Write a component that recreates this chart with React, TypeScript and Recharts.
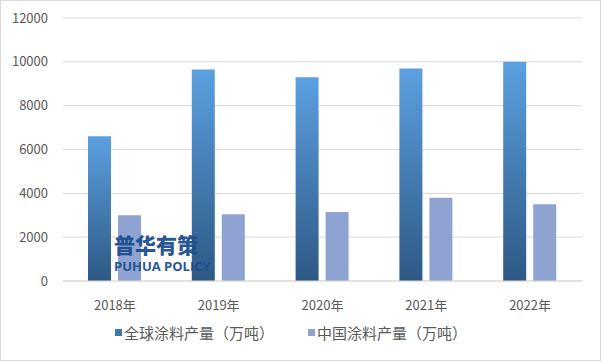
import { BarChart, Bar, XAxis, YAxis, CartesianGrid, Legend } from "recharts";

const years = ["2018年", "2019年", "2020年", "2021年", "2022年"];
const globalOutput = [6600, 9650, 9300, 9700, 10000];
const chinaOutput = [3000, 3050, 3150, 3800, 3500];
const yTicks = [0, 2000, 4000, 6000, 8000, 10000, 12000];

const GLOBAL_NAME = "全球涂料产量（万吨）";
const CHINA_NAME = "中国涂料产量（万吨）";

const data = years.map((y, i) => ({
  year: y,
  global: globalOutput[i],
  china: chinaOutput[i],
}));

const FONT = '"Noto Sans CJK SC", "Noto Sans", sans-serif';

function LegendContent() {
  const items = [
    { name: GLOBAL_NAME, color: "#3f76ad" },
    { name: CHINA_NAME, color: "#8fa3d2" },
  ];
  return (
    <div
      style={{
        height: 30,
        display: "flex",
        justifyContent: "center",
        alignItems: "center",
        gap: 34,
        fontFamily: FONT,
        fontSize: 15,
        color: "#595959",
      }}
    >
      {items.map((it) => (
        <div key={it.name} style={{ display: "flex", alignItems: "center" }}>
          <span
            style={{
              width: 7,
              height: 7,
              background: it.color,
              display: "inline-block",
              marginRight: 2,
            }}
          />
          <span>{it.name}</span>
        </div>
      ))}
    </div>
  );
}

export default function App() {
  return (
    <div
      style={{
        position: "absolute",
        left: 0,
        top: 0,
        width: 601,
        height: 361,
        background: "#fff",
      }}
    >
      <BarChart
        width={601}
        height={361}
        data={data}
        margin={{ top: 18, right: 19, left: 0, bottom: 14 }}
        barSize={23}
        barGap={7}
      >
        <defs>
          <linearGradient id="blueGrad" x1="0" y1="0" x2="0" y2="1">
            <stop offset="0%" stopColor="#5ba0e0" />
            <stop offset="100%" stopColor="#2e5985" />
          </linearGradient>
        </defs>
        <CartesianGrid stroke="#d9d9d9" vertical={false} />
        <XAxis
          dataKey="year"
          height={36}
          tickLine={false}
          axisLine={{ stroke: "#d9d9d9" }}
          tickMargin={14}
          tick={{ fill: "#595959", fontSize: 13, fontFamily: FONT }}
        />
        <YAxis
          width={63}
          domain={[0, 12000]}
          ticks={yTicks}
          interval={0}
          tickLine={false}
          axisLine={false}
          tickMargin={9}
          tick={{ fill: "#595959", fontSize: 13, fontFamily: FONT }}
        />
        <Legend verticalAlign="bottom" content={<LegendContent />} />
        <Bar
          dataKey="global"
          name={GLOBAL_NAME}
          fill="url(#blueGrad)"
          isAnimationActive={false}
        />
        <Bar
          dataKey="china"
          name={CHINA_NAME}
          fill="#8fa3d2"
          isAnimationActive={false}
        />
      </BarChart>
      {/* watermark */}
      <div
        style={{
          position: "absolute",
          left: 114,
          top: 234,
          color: "#1d4f8f",
          fontFamily: FONT,
          pointerEvents: "none",
          lineHeight: 1,
          opacity: 0.95,
        }}
      >
        <div style={{ fontSize: 21, fontWeight: 900 }}>普华有策</div>
        <div
          style={{
            fontSize: 13,
            fontWeight: 700,
            marginTop: 5,
            fontFamily: '"Open Sans", "DejaVu Sans", sans-serif',
          }}
        >
          PUHUA POLICY
        </div>
      </div>
      <div
        style={{
          position: "absolute",
          inset: 0,
          border: "1px solid #d9d9d9",
          pointerEvents: "none",
        }}
      />
    </div>
  );
}
